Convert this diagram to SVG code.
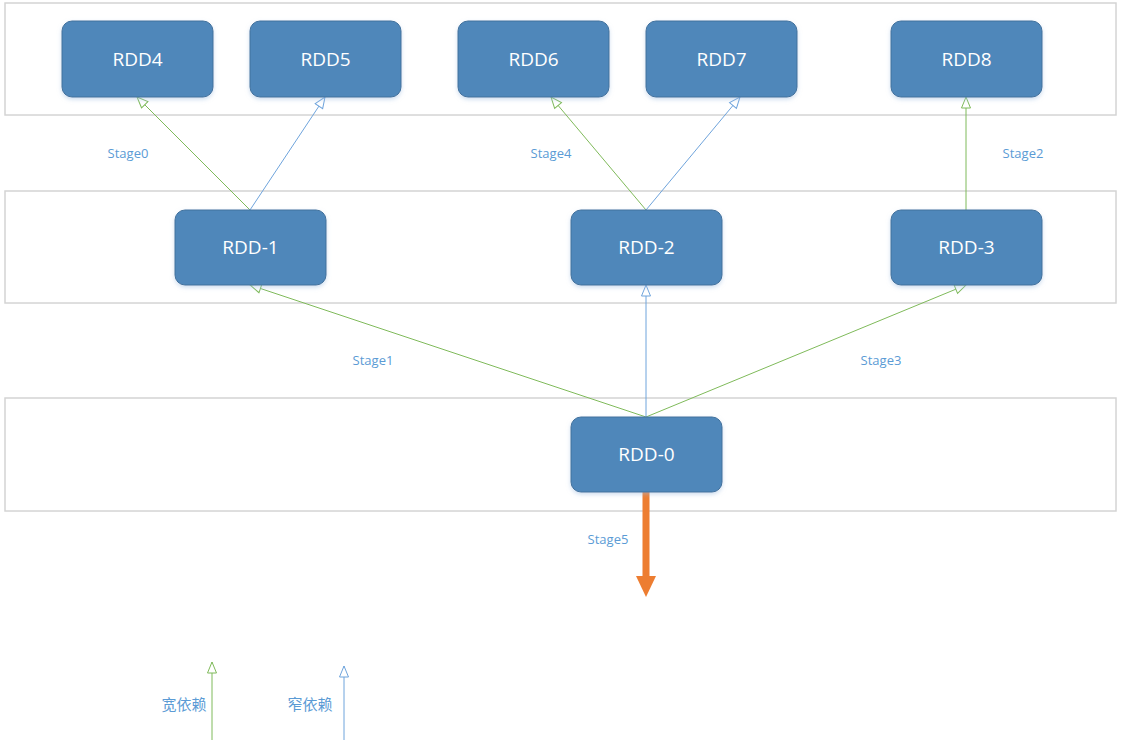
<svg xmlns="http://www.w3.org/2000/svg" width="1123" height="740" viewBox="0 0 1123 740">
  <style>
    .band { fill: #ffffff; stroke: #d4d4d4; stroke-width: 1.5; }
    .node rect { fill: #4f87ba; stroke: #41719c; stroke-width: 1; }
    .node text { fill: #ffffff; font-family: "Open Sans", "Liberation Sans", sans-serif; font-size: 19px; text-anchor: middle; }
    .wide { stroke: #7fba5a; stroke-width: 1; fill: none; }
    .narrow { stroke: #6fa4dc; stroke-width: 1; fill: none; }
    .label { fill: #5b9bd5; font-family: "Open Sans", "Liberation Sans", sans-serif; font-size: 13px; text-anchor: middle; }
    .legend { fill: #5b9bd5; font-family: "Noto Sans CJK SC", sans-serif; font-size: 15px; text-anchor: middle; }
  </style>
  <defs>
    <filter id="shadow" x="-10%" y="-10%" width="120%" height="130%">
      <feDropShadow dx="0" dy="2" stdDeviation="2" flood-color="#9dbbe0" flood-opacity="0.5"/>
    </filter>
    <marker id="openGreen" markerUnits="userSpaceOnUse" markerWidth="14" markerHeight="12" refX="12" refY="6" orient="auto">
      <path d="M1,1.5 L12,6 L1,10.5 Z" fill="#ffffff" stroke="#7fba5a" stroke-width="1"/>
    </marker>
    <marker id="openBlue" markerUnits="userSpaceOnUse" markerWidth="14" markerHeight="12" refX="12" refY="6" orient="auto">
      <path d="M1,1.5 L12,6 L1,10.5 Z" fill="#ffffff" stroke="#6fa4dc" stroke-width="1"/>
    </marker>
  </defs>

  <!-- stage bands -->
  <g id="bands">
    <rect class="band" x="5" y="3" width="1111" height="112"/>
    <rect class="band" x="5" y="191" width="1111" height="112"/>
    <rect class="band" x="5" y="398" width="1111" height="113"/>
  </g>

  <!-- dependency connectors -->
  <g id="connectors">
    <line class="wide" x1="250" y1="210" x2="137" y2="97" marker-end="url(#openGreen)"/>
    <line class="narrow" x1="250" y1="210" x2="325" y2="97" marker-end="url(#openBlue)"/>
    <line class="wide" x1="646" y1="210" x2="551" y2="97" marker-end="url(#openGreen)"/>
    <line class="narrow" x1="646" y1="210" x2="740" y2="97" marker-end="url(#openBlue)"/>
    <line class="wide" x1="966" y1="210" x2="966" y2="97" marker-end="url(#openGreen)"/>
    <line class="wide" x1="646" y1="417" x2="250" y2="285" marker-end="url(#openGreen)"/>
    <line class="narrow" x1="646" y1="417" x2="646" y2="285" marker-end="url(#openBlue)"/>
    <line class="wide" x1="646" y1="417" x2="966" y2="285" marker-end="url(#openGreen)"/>
    <!-- output arrow -->
    <line x1="646" y1="492" x2="646" y2="578" stroke="#ed7d31" stroke-width="7" stroke-linecap="round"/>
    <path d="M636,576 L656,576 L646,597 Z" fill="#ed7d31"/>
  </g>

  <!-- stage labels -->
  <g id="labels">
    <text class="label" x="128" y="158">Stage0</text>
    <text class="label" x="551" y="158">Stage4</text>
    <text class="label" x="1023" y="158">Stage2</text>
    <text class="label" x="373" y="365">Stage1</text>
    <text class="label" x="881" y="365">Stage3</text>
    <text class="label" x="608" y="544">Stage5</text>
  </g>

  <!-- RDD nodes -->
  <g id="rdd4" class="node"><rect x="62" y="21" width="151" height="76" rx="10" filter="url(#shadow)"/><text x="137.5" y="66">RDD4</text></g>
  <g id="rdd5" class="node"><rect x="250" y="21" width="151" height="76" rx="10" filter="url(#shadow)"/><text x="325.5" y="66">RDD5</text></g>
  <g id="rdd6" class="node"><rect x="458" y="21" width="151" height="76" rx="10" filter="url(#shadow)"/><text x="533.5" y="66">RDD6</text></g>
  <g id="rdd7" class="node"><rect x="646" y="21" width="151" height="76" rx="10" filter="url(#shadow)"/><text x="721.5" y="66">RDD7</text></g>
  <g id="rdd8" class="node"><rect x="891" y="21" width="151" height="76" rx="10" filter="url(#shadow)"/><text x="966.5" y="66">RDD8</text></g>
  <g id="rdd-1" class="node"><rect x="175" y="210" width="151" height="75" rx="10" filter="url(#shadow)"/><text x="250.5" y="254">RDD-1</text></g>
  <g id="rdd-2" class="node"><rect x="571" y="210" width="151" height="75" rx="10" filter="url(#shadow)"/><text x="646.5" y="254">RDD-2</text></g>
  <g id="rdd-3" class="node"><rect x="891" y="210" width="151" height="75" rx="10" filter="url(#shadow)"/><text x="966.5" y="254">RDD-3</text></g>
  <g id="rdd-0" class="node"><rect x="571" y="417" width="151" height="75" rx="10" filter="url(#shadow)"/><text x="646.5" y="461">RDD-0</text></g>

  <!-- legend -->
  <g id="legend">
    <line class="wide" x1="212" y1="740" x2="212" y2="662" marker-end="url(#openGreen)"/>
    <text class="legend" x="184" y="710">宽依赖</text>
    <line class="narrow" x1="344" y1="740" x2="344" y2="666" marker-end="url(#openBlue)"/>
    <text class="legend" x="310" y="710">窄依赖</text>
  </g>
</svg>
